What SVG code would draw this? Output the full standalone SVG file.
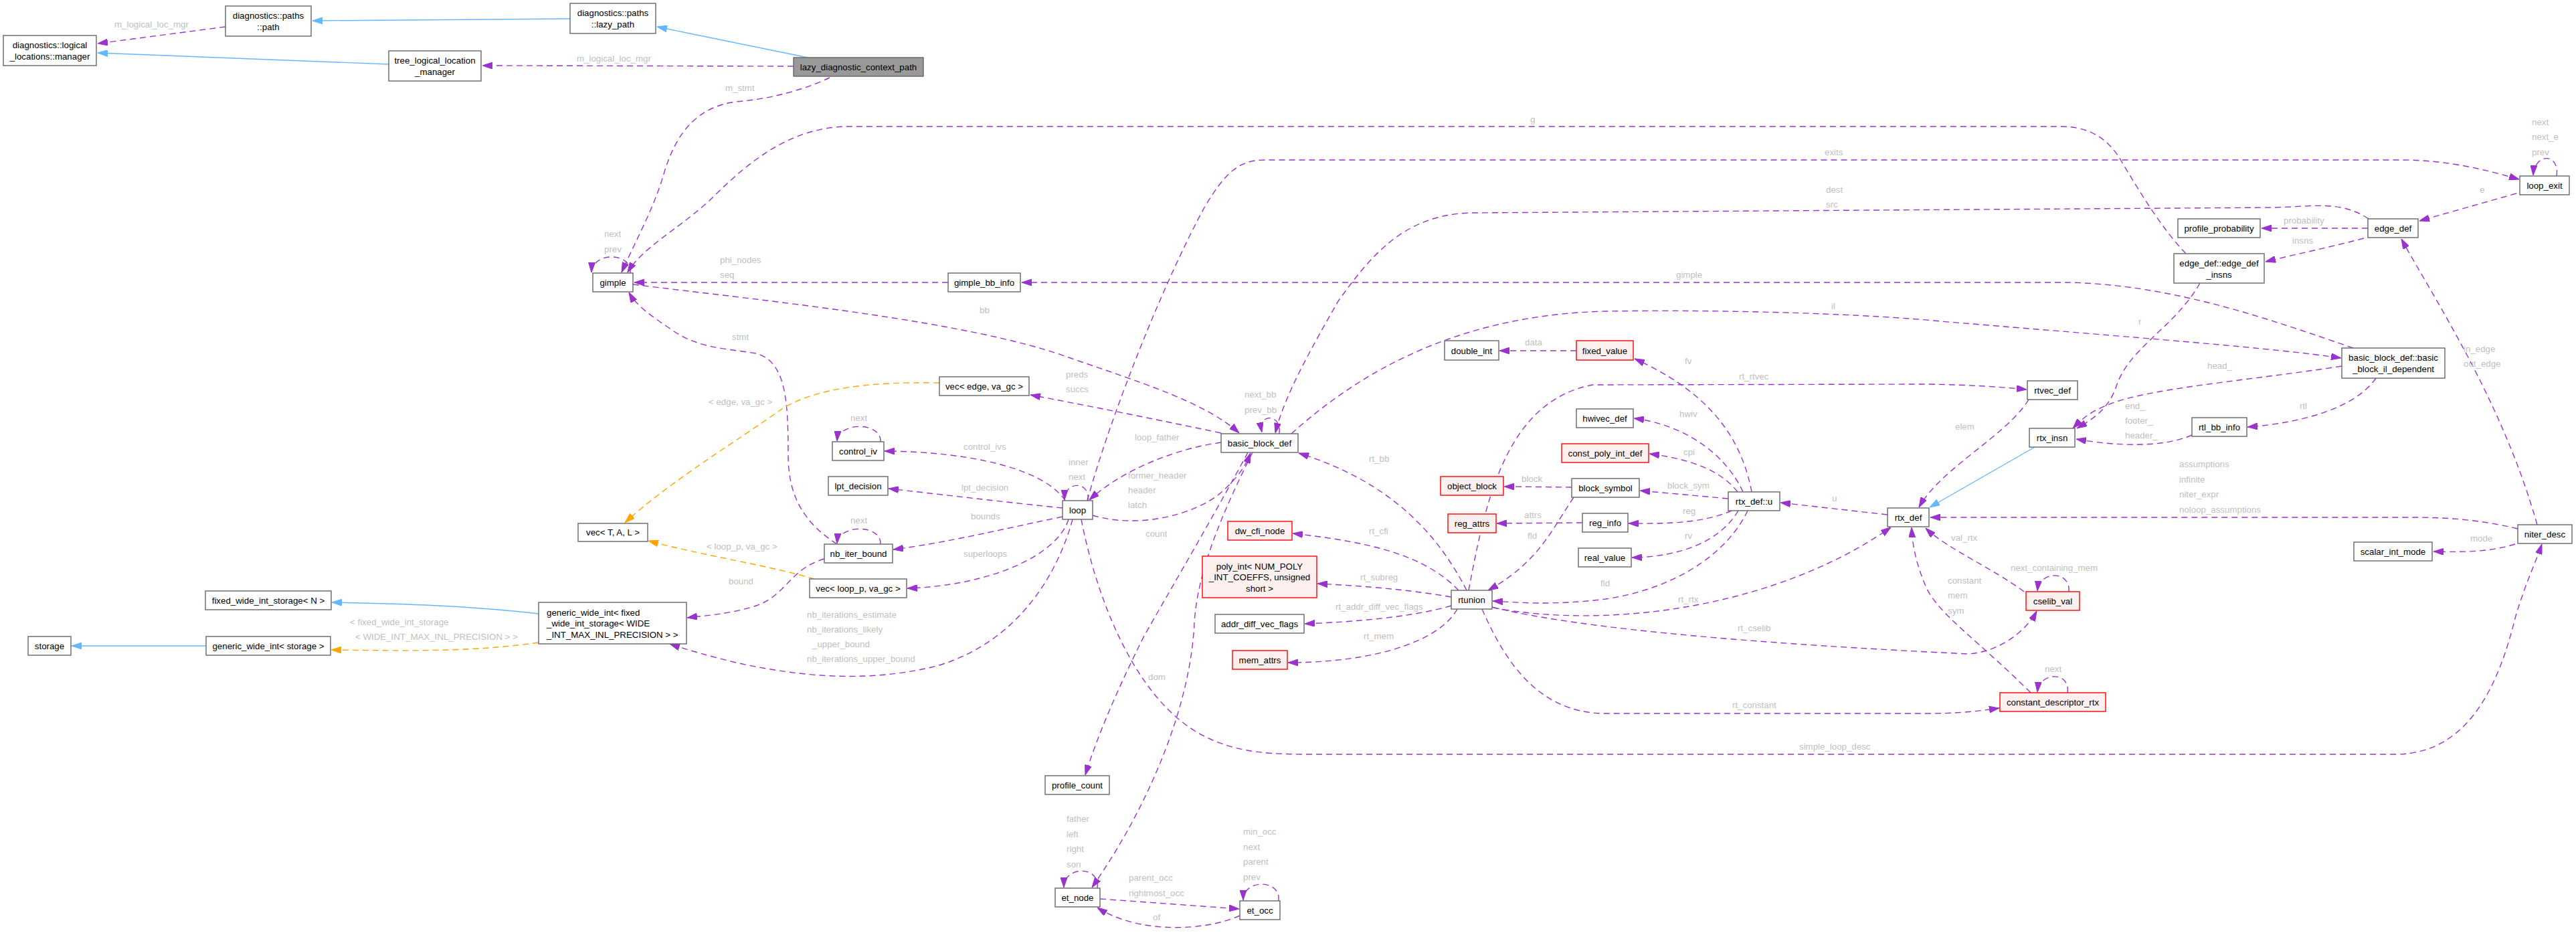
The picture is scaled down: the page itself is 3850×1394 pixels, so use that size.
<svg xmlns="http://www.w3.org/2000/svg" width="3850" height="1394" viewBox="0 0 3850 1394">
<style>
.node rect{fill:#fff;stroke:#666;stroke-width:1.4}
.node.red rect{fill:#fff0f0;stroke:#ff0000}
.node.main rect{fill:#999}
.node text{font-family:"Liberation Sans",Arial,sans-serif;font-size:13.3px;fill:#000;text-anchor:middle;dominant-baseline:central}
.node text.l{text-anchor:start}
.e{fill:none;stroke-width:1.4}
.p{stroke:#9a32cd;stroke-dasharray:9,6;marker-end:url(#ap)}
.b{stroke:#63b8ff;marker-end:url(#ab)}
.o{stroke:#ffa500;stroke-dasharray:9,6;marker-end:url(#ao)}
.lbl text{font-family:"Liberation Sans",Arial,sans-serif;font-size:13.3px;fill:#c0c0c0;dominant-baseline:central}
</style>
<defs>
<marker id="ap" markerUnits="userSpaceOnUse" markerWidth="15" markerHeight="10" refX="15" refY="5" orient="auto" viewBox="0 0 15 10"><path d="M0,0 L15,5 L0,10 z" fill="#9a32cd" stroke="#9a32cd"/></marker>
<marker id="ab" markerUnits="userSpaceOnUse" markerWidth="15" markerHeight="10" refX="15" refY="5" orient="auto" viewBox="0 0 15 10"><path d="M0,0 L15,5 L0,10 z" fill="#63b8ff" stroke="#63b8ff"/></marker>
<marker id="ao" markerUnits="userSpaceOnUse" markerWidth="15" markerHeight="10" refX="15" refY="5" orient="auto" viewBox="0 0 15 10"><path d="M0,0 L15,5 L0,10 z" fill="#ffa500" stroke="#ffa500"/></marker>
</defs>
<rect width="3850" height="1394" fill="#fff"/>
<g id="edges">
<path class="e p" d="M337,40 L146,65"/>
<path class="e b" d="M852,28 L467,31"/>
<path class="e b" d="M581,96 L146,79"/>
<path class="e b" d="M1207,86 L982,40"/>
<path class="e p" d="M1186,99 L721,98"/>
<path class="e p" d="M1240,116 C1200,135 1150,148 1100,152 C1040,160 1010,200 992,260 C978,310 945,370 929,407"/>
<path class="e p" d="M1417,422 L948,422"/>
<path class="e p" d="M946,425 C1150,450 1450,480 1600,535 C1700,570 1800,600 1852,647"/>
<path class="e p" d="M1912,648 C1916,618 1880,616 1886,646"/>
<path class="e p" d="M3267,379 C3230,340 3200,290 3170,240 C3150,205 3120,189 3080,189 L1263,189 C1180,192 1120,240 1060,300 C1010,345 960,370 938,407"/>
<path class="e p" d="M1625,748 C1660,620 1740,420 1800,310 C1830,260 1850,239 1890,239 L3590,239 C3660,239 3720,255 3765,268"/>
<path class="e p" d="M3540,327 C3500,300 3460,308 3400,310 L2200,318 C2100,320 2050,380 2000,450 C1960,520 1920,590 1906,647"/>
<path class="e p" d="M3517,520 C3400,480 3250,425 3090,422 L1527,422"/>
<path class="e p" d="M1930,648 C2050,540 2200,470 2400,465 C2600,462 2800,470 2900,480 C3200,505 3400,520 3499,535"/>
<path class="e p" d="M3821,263 C3826,228 3788,228 3786,262"/>
<path class="e p" d="M3761,289 L3616,330"/>
<path class="e p" d="M3539,341 L3380,341"/>
<path class="e p" d="M3533,356 C3480,370 3430,380 3386,391"/>
<path class="e p" d="M3792,784 C3740,600 3640,450 3589,357"/>
<path class="e p" d="M3288,423 C3250,490 3180,520 3162,580 C3150,612 3128,626 3104,640"/>
<path class="e p" d="M3500,547 C3350,570 3210,580 3150,605 C3125,615 3112,625 3098,640"/>
<path class="e p" d="M3551,565 C3520,610 3440,632 3359,638"/>
<path class="e p" d="M3276,650 C3230,670 3160,666 3103,656"/>
<path class="e b" d="M3041,668 L2884,758"/>
<path class="e p" d="M3032,597 C3000,650 2900,700 2868,758"/>
<path class="e p" d="M2195,882 C2220,750 2250,600 2380,575 L2880,574 C2950,575 3000,579 3029,582"/>
<path class="e p" d="M2821,769 L2661,751"/>
<path class="e p" d="M2618,735 C2600,640 2540,580 2443,536"/>
<path class="e p" d="M2605,735 C2580,680 2520,635 2442,625"/>
<path class="e p" d="M2597,735 C2570,700 2520,685 2465,678"/>
<path class="e p" d="M2583,745 L2451,733"/>
<path class="e p" d="M2349,728 L2248,727"/>
<path class="e p" d="M2588,763 C2550,780 2500,783 2434,782"/>
<path class="e p" d="M2365,781 L2237,782"/>
<path class="e p" d="M2598,763 C2570,810 2510,832 2439,833"/>
<path class="e p" d="M2352,743 C2320,790 2300,840 2224,882"/>
<path class="e p" d="M2612,763 C2580,830 2500,880 2400,895 C2320,905 2270,900 2231,898"/>
<path class="e p" d="M2232,908 C2400,940 2650,910 2826,788"/>
<path class="e p" d="M2192,882 C2150,800 2080,720 1941,677"/>
<path class="e p" d="M2180,882 C2130,830 2050,810 1932,797"/>
<path class="e p" d="M2169,892 C2100,880 2030,875 1969,872"/>
<path class="e p" d="M2169,905 C2100,925 2000,930 1950,932"/>
<path class="e p" d="M2178,910 C2150,960 2050,990 1925,990"/>
<path class="e p" d="M2230,907 C2400,950 2800,970 2940,977 C2990,975 3030,940 3044,913"/>
<path class="e p" d="M2215,910 C2250,990 2300,1066 2400,1066 L2880,1066 C2930,1066 2960,1062 2988,1058"/>
<path class="e p" d="M3035,1035 C2960,960 2900,920 2880,880 C2862,840 2858,810 2857,788"/>
<path class="e p" d="M3025,884 C2980,850 2910,820 2878,789"/>
<path class="e p" d="M3092,884 C3095,852 3048,852 3045,883"/>
<path class="e p" d="M3090,1035 C3095,1003 3048,1003 3045,1034"/>
<path class="e p" d="M3763,790 C3700,775 3650,773 3600,773 L2885,773"/>
<path class="e p" d="M3759,813 C3720,825 3680,825 3637,824"/>
<path class="e p" d="M1616,776 C1640,900 1700,1050 1800,1100 C1840,1120 1880,1127 1950,1127 L3580,1127 C3700,1127 3740,1000 3760,920 C3775,870 3790,840 3799,813"/>
<path class="e p" d="M1626,748 C1630,718 1591,718 1591,747"/>
<path class="e p" d="M1825,661 C1760,670 1680,700 1628,747"/>
<path class="e p" d="M1633,770 C1700,790 1780,770 1820,740 C1850,715 1862,695 1869,677"/>
<path class="e p" d="M1592,748 C1560,700 1450,675 1322,674"/>
<path class="e p" d="M1588,759 C1500,750 1400,738 1328,730"/>
<path class="e p" d="M1588,772 C1500,790 1420,810 1335,821"/>
<path class="e p" d="M1597,776 C1580,830 1480,875 1356,879"/>
<path class="e p" d="M1603,776 C1580,860 1520,960 1400,995 C1300,1020 1200,1012 1100,990 C1060,980 1030,972 1001,962"/>
<path class="e p" d="M1316,660 C1318,630 1253,630 1251,659"/>
<path class="e p" d="M1316,813 C1318,783 1253,783 1251,812"/>
<path class="e p" d="M1251,813 C1200,780 1178,740 1178,680 C1178,600 1175,540 1130,528 C1080,520 1040,520 1000,490 C970,470 950,455 940,437"/>
<path class="e p" d="M1232,835 C1180,850 1175,890 1130,905 C1090,918 1050,920 1027,923"/>
<path class="e p" d="M1825,647 C1720,625 1620,605 1540,590"/>
<path class="e o" d="M1404,572 C1300,570 1220,580 1170,610 C1100,660 1000,720 934,781"/>
<path class="e o" d="M1217,865 C1150,845 1050,830 969,808"/>
<path class="e b" d="M805,917 C700,905 600,902 496,900"/>
<path class="e o" d="M805,960 C700,975 600,972 495,971"/>
<path class="e b" d="M308,965 L107,965"/>
<path class="e p" d="M1865,676 C1820,760 1750,880 1710,950 C1670,1030 1640,1100 1622,1158"/>
<path class="e p" d="M1872,676 C1830,760 1790,850 1785,930 C1780,1050 1720,1200 1632,1326"/>
<path class="e p" d="M1640,1327 C1645,1293 1590,1293 1590,1326"/>
<path class="e p" d="M1644,1343 L1852,1358"/>
<path class="e p" d="M1853,1368 C1800,1392 1700,1395 1640,1356"/>
<path class="e p" d="M1911,1346 C1915,1313 1858,1313 1858,1345"/>
<path class="e p" d="M942,408 C945,376 885,376 884,407"/>
<path class="e p" d="M2356,524 L2241,524"/>
</g>
<g class="lbl">
<text x="171" y="36">m_logical_loc_mgr</text>
<text x="862" y="87">m_logical_loc_mgr</text>
<text x="1084" y="131">m_stmt</text>
<text x="903" y="349">next</text><text x="903" y="372">prev</text>
<text x="1076" y="388">phi_nodes</text><text x="1076" y="410">seq</text>
<text x="1464" y="463">bb</text>
<text x="2287" y="178">g</text>
<text x="2727" y="227">exits</text>
<text x="2729" y="283">dest</text><text x="2729" y="305">src</text>
<text x="2505" y="410">gimple</text>
<text x="2737" y="457">il</text>
<text x="3784" y="182">next</text><text x="3784" y="204">next_e</text><text x="3784" y="227">prev</text>
<text x="3706" y="283">e</text>
<text x="3413" y="329">probability</text>
<text x="3426" y="359">insns</text>
<text x="1094" y="503">stmt</text>
<text x="1593" y="559">preds</text><text x="1593" y="581">succs</text>
<text x="1059" y="600">&lt; edge, va_gc &gt;</text>
<text x="1860" y="589">next_bb</text><text x="1860" y="612">prev_bb</text>
<text x="1271" y="624">next</text>
<text x="1440" y="667">control_ivs</text>
<text x="1696" y="653">loop_father</text>
<text x="1597" y="690">inner</text><text x="1597" y="712">next</text>
<text x="1686" y="710">former_header</text><text x="1686" y="732">header</text><text x="1686" y="754">latch</text>
<text x="1437" y="728">lpt_decision</text>
<text x="1451" y="771">bounds</text>
<text x="1271" y="777">next</text>
<text x="1712" y="797">count</text>
<text x="1056" y="816">&lt; loop_p, va_gc &gt;</text>
<text x="1440" y="827">superloops</text>
<text x="1089" y="868">bound</text>
<text x="1206" y="918">nb_iterations_estimate</text>
<text x="1206" y="940">nb_iterations_likely</text>
<text x="1214" y="962">_upper_bound</text>
<text x="1206" y="984">nb_iterations_upper_bound</text>
<text x="523" y="929">&lt; fixed_wide_int_storage</text>
<text x="531" y="951">&lt; WIDE_INT_MAX_INL_PRECISION &gt; &gt;</text>
<text x="1716" y="1011">dom</text>
<text x="1594" y="1223">father</text><text x="1594" y="1246">left</text><text x="1594" y="1268">right</text><text x="1594" y="1291">son</text>
<text x="1858" y="1242">min_occ</text><text x="1858" y="1265">next</text><text x="1858" y="1287">parent</text><text x="1858" y="1310">prev</text>
<text x="1687" y="1311">parent_occ</text><text x="1687" y="1334">rightmost_occ</text>
<text x="1723" y="1370">of</text>
<text x="2279" y="511">data</text>
<text x="2518" y="539">fv</text>
<text x="2599" y="562">rt_rtvec</text>
<text x="2510" y="618">hwiv</text>
<text x="2516" y="675">cpi</text>
<text x="2046" y="685">rt_bb</text>
<text x="2274" y="715">block</text>
<text x="2492" y="725">block_sym</text>
<text x="2738" y="744">u</text>
<text x="2515" y="763">reg</text>
<text x="2278" y="769">attrs</text>
<text x="2046" y="793">rt_cfi</text>
<text x="2283" y="800">fld</text>
<text x="2518" y="800">rv</text>
<text x="2033" y="862">rt_subreg</text>
<text x="2392" y="871">fld</text>
<text x="2508" y="895">rt_rtx</text>
<text x="1996" y="906">rt_addr_diff_vec_flags</text>
<text x="2038" y="950">rt_mem</text>
<text x="2597" y="938">rt_cselib</text>
<text x="2589" y="1053">rt_constant</text>
<text x="2689" y="1115">simple_loop_desc</text>
<text x="3196" y="480">r</text>
<text x="3682" y="521">in_edge</text><text x="3682" y="543">out_edge</text>
<text x="3299" y="546">head_</text>
<text x="3176" y="606">end_</text><text x="3176" y="628">footer_</text><text x="3176" y="650">header_</text>
<text x="3437" y="606">rtl</text>
<text x="2922" y="637">elem</text>
<text x="3257" y="693">assumptions</text><text x="3257" y="716">infinite</text><text x="3257" y="738">niter_expr</text><text x="3257" y="761">noloop_assumptions</text>
<text x="3692" y="804">mode</text>
<text x="2916" y="803">val_rtx</text>
<text x="3005" y="848">next_containing_mem</text>
<text x="2911" y="867">constant</text><text x="2911" y="889">mem</text><text x="2911" y="912">sym</text>
<text x="3056" y="999">next</text>
</g>
<g id="n_logical_manager" class="node"><rect x="5" y="53" width="139" height="45"/><text x="74.5" y="67">diagnostics::logical</text><text x="74.5" y="84">_locations::manager</text></g>
<g id="n_paths_path" class="node"><rect x="337" y="9" width="128" height="45"/><text x="401" y="23">diagnostics::paths</text><text x="401" y="40">::path</text></g>
<g id="n_lazy_path" class="node"><rect x="852" y="5" width="128" height="45"/><text x="916" y="19">diagnostics::paths</text><text x="916" y="36">::lazy_path</text></g>
<g id="n_tree_llm" class="node"><rect x="581" y="76" width="138" height="45"/><text x="650" y="90">tree_logical_location</text><text x="650" y="107">_manager</text></g>
<g id="n_lazy_diag" class="node main"><rect x="1186" y="86" width="194" height="28"/><text x="1283" y="100">lazy_diagnostic_context_path</text></g>
<g id="n_gimple" class="node"><rect x="886" y="408" width="60" height="28"/><text x="916" y="422">gimple</text></g>
<g id="n_gimple_bb_info" class="node"><rect x="1417" y="408" width="108" height="28"/><text x="1471" y="422">gimple_bb_info</text></g>
<g id="n_loop_exit" class="node"><rect x="3766" y="263" width="74" height="28"/><text x="3803" y="277">loop_exit</text></g>
<g id="n_edge_def" class="node"><rect x="3539" y="327" width="75" height="28"/><text x="3576.5" y="341">edge_def</text></g>
<g id="n_profile_probability" class="node"><rect x="3255" y="327" width="123" height="28"/><text x="3316.5" y="341">profile_probability</text></g>
<g id="n_edge_def_insns" class="node"><rect x="3249" y="379" width="135" height="44"/><text x="3316.5" y="393">edge_def::edge_def</text><text x="3316.5" y="410">_insns</text></g>
<g id="n_vec_TAL" class="node"><rect x="864" y="782" width="104" height="27"/><text x="916" y="795.5">vec&lt; T, A, L &gt;</text></g>
<g id="n_fwis_N" class="node"><rect x="307" y="883" width="188" height="28"/><text x="401" y="897">fixed_wide_int_storage&lt; N &gt;</text></g>
<g id="n_gwi_fixed" class="node"><rect x="805" y="900" width="221" height="62"/><text class="l" x="817" y="915">generic_wide_int&lt; fixed</text><text class="l" x="817" y="931">_wide_int_storage&lt; WIDE</text><text class="l" x="817" y="948">_INT_MAX_INL_PRECISION &gt; &gt;</text></g>
<g id="n_storage" class="node"><rect x="42" y="951" width="64" height="28"/><text x="74" y="965">storage</text></g>
<g id="n_gwi_storage" class="node"><rect x="308" y="951" width="186" height="28"/><text x="401" y="965">generic_wide_int&lt; storage &gt;</text></g>
<g id="n_vec_edge" class="node"><rect x="1404" y="563" width="134" height="28"/><text x="1471" y="577">vec&lt; edge, va_gc &gt;</text></g>
<g id="n_control_iv" class="node"><rect x="1244" y="660" width="77" height="28"/><text x="1282.5" y="674">control_iv</text></g>
<g id="n_lpt_decision" class="node"><rect x="1238" y="712" width="89" height="28"/><text x="1282.5" y="726">lpt_decision</text></g>
<g id="n_nb_iter_bound" class="node"><rect x="1232" y="813" width="102" height="28"/><text x="1283" y="827">nb_iter_bound</text></g>
<g id="n_vec_loop" class="node"><rect x="1210" y="865" width="145" height="28"/><text x="1282.5" y="879">vec&lt; loop_p, va_gc &gt;</text></g>
<g id="n_loop" class="node"><rect x="1588" y="748" width="45" height="28"/><text x="1610.5" y="762">loop</text></g>
<g id="n_basic_block_def" class="node"><rect x="1825" y="648" width="115" height="28"/><text x="1882.5" y="662">basic_block_def</text></g>
<g id="n_profile_count" class="node"><rect x="1562" y="1159" width="96" height="28"/><text x="1610" y="1173">profile_count</text></g>
<g id="n_et_node" class="node"><rect x="1577" y="1327" width="67" height="28"/><text x="1610.5" y="1341">et_node</text></g>
<g id="n_et_occ" class="node"><rect x="1853" y="1346" width="60" height="28"/><text x="1883" y="1360">et_occ</text></g>
<g id="n_mem_attrs" class="node red"><rect x="1842" y="972" width="82" height="28"/><text x="1883" y="986">mem_attrs</text></g>
<g id="n_addr_diff_vec_flags" class="node"><rect x="1816" y="918" width="133" height="28"/><text x="1882.5" y="932">addr_diff_vec_flags</text></g>
<g id="n_dw_cfi_node" class="node red"><rect x="1835" y="779" width="96" height="28"/><text x="1883" y="793">dw_cfi_node</text></g>
<g id="n_poly_int" class="node red"><rect x="1797" y="831" width="171" height="62"/><text x="1882.5" y="846">poly_int&lt; NUM_POLY</text><text x="1882.5" y="862">_INT_COEFFS, unsigned</text><text x="1882.5" y="879">short &gt;</text></g>
<g id="n_double_int" class="node"><rect x="2159" y="509" width="81" height="29"/><text x="2199.5" y="524">double_int</text></g>
<g id="n_fixed_value" class="node red"><rect x="2356" y="509" width="85" height="29"/><text x="2398.5" y="524">fixed_value</text></g>
<g id="n_hwivec_def" class="node"><rect x="2356" y="611" width="85" height="28"/><text x="2398.5" y="625">hwivec_def</text></g>
<g id="n_const_poly_int_def" class="node red"><rect x="2334" y="663" width="130" height="28"/><text x="2399" y="677">const_poly_int_def</text></g>
<g id="n_block_symbol" class="node"><rect x="2349" y="715" width="101" height="28"/><text x="2399.5" y="729">block_symbol</text></g>
<g id="n_object_block" class="node red"><rect x="2153" y="712" width="94" height="28"/><text x="2200" y="726">object_block</text></g>
<g id="n_reg_info" class="node"><rect x="2365" y="767" width="68" height="28"/><text x="2399" y="781">reg_info</text></g>
<g id="n_reg_attrs" class="node red"><rect x="2164" y="768" width="72" height="28"/><text x="2200" y="782">reg_attrs</text></g>
<g id="n_real_value" class="node"><rect x="2359" y="819" width="79" height="28"/><text x="2398.5" y="833">real_value</text></g>
<g id="n_rtx_def_u" class="node"><rect x="2583" y="735" width="77" height="28"/><text x="2621.5" y="749">rtx_def::u</text></g>
<g id="n_rtx_def" class="node"><rect x="2821" y="759" width="62" height="28"/><text x="2852" y="773">rtx_def</text></g>
<g id="n_rtunion" class="node"><rect x="2169" y="882" width="61" height="28"/><text x="2199.5" y="896">rtunion</text></g>
<g id="n_rtvec_def" class="node"><rect x="3030" y="569" width="75" height="28"/><text x="3067.5" y="583">rtvec_def</text></g>
<g id="n_rtx_insn" class="node"><rect x="3033" y="640" width="68" height="28"/><text x="3067" y="654">rtx_insn</text></g>
<g id="n_rtl_bb_info" class="node"><rect x="3276" y="624" width="82" height="28"/><text x="3317" y="638">rtl_bb_info</text></g>
<g id="n_bb_il_dep" class="node"><rect x="3500" y="520" width="154" height="45"/><text x="3577" y="534">basic_block_def::basic</text><text x="3577" y="551">_block_il_dependent</text></g>
<g id="n_niter_desc" class="node"><rect x="3763" y="784" width="81" height="28"/><text x="3803.5" y="798">niter_desc</text></g>
<g id="n_scalar_int_mode" class="node"><rect x="3518" y="810" width="117" height="28"/><text x="3576.5" y="824">scalar_int_mode</text></g>
<g id="n_cselib_val" class="node red"><rect x="3028" y="884" width="80" height="28"/><text x="3068" y="898">cselib_val</text></g>
<g id="n_constant_descriptor_rtx" class="node red"><rect x="2989" y="1035" width="158" height="28"/><text x="3068" y="1049">constant_descriptor_rtx</text></g>
</svg>
